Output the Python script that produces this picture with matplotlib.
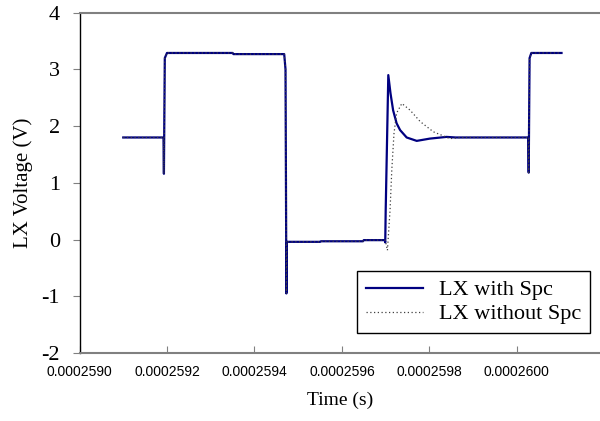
import matplotlib.pyplot as plt
from matplotlib.ticker import FormatStrFormatter

plt.rcParams['axes.unicode_minus'] = False

# time in microseconds, voltage in V
t_with = [259.100, 259.192, 259.193, 259.195, 259.200, 259.350, 259.352, 259.468,
          259.471, 259.473, 259.474, 259.550, 259.552, 259.648, 259.650, 259.698,
          259.699, 259.700, 259.706, 259.711, 259.717, 259.725, 259.733, 259.748,
          259.771, 259.801, 259.839, 259.860, 260.026, 260.027, 260.029, 260.033,
          260.102]
v_with = [1.80, 1.80, 1.16, 3.20, 3.29, 3.29, 3.27, 3.27,
          3.00, -0.95, -0.04, -0.04, -0.03, -0.03, -0.01, -0.01,
          -0.05, 0.50, 2.90, 2.58, 2.28, 2.05, 1.93, 1.80,
          1.74, 1.78, 1.81, 1.80, 1.80, 1.18, 3.20, 3.29,
          3.29]

t_without = [259.100, 259.192, 259.193, 259.195, 259.200, 259.350, 259.352, 259.468,
             259.471, 259.473, 259.474, 259.550, 259.552, 259.648, 259.650, 259.699,
             259.704, 259.710, 259.714, 259.719, 259.725, 259.737, 259.756, 259.779,
             259.809, 259.847, 259.870, 260.026, 260.027, 260.029, 260.033, 260.102]
v_without = [1.80, 1.80, 1.16, 3.20, 3.29, 3.29, 3.27, 3.27,
             3.00, -0.95, -0.04, -0.04, -0.03, -0.03, -0.01, -0.01,
             -0.19, 0.52, 1.23, 1.87, 2.23, 2.40, 2.28, 2.08,
             1.90, 1.78, 1.80, 1.80, 1.18, 3.20, 3.29, 3.29]

fig = plt.figure(figsize=(6, 4.21), dpi=100)
ax = fig.add_axes([79.5 / 600, 1 - 353 / 421, 1 - 79.5 / 600, (353 - 12.7) / 421])

ax.plot([t * 1e-6 for t in t_with], v_with, color='#000080', lw=1.6, label='LX with Spc')
ax.plot([t * 1e-6 for t in t_without], v_without, color='#404040', lw=0.9,
        linestyle=(0, (1, 2)), label='LX without Spc')

ax.set_xlim(259.0e-6, 260.19e-6)
ax.set_ylim(-2, 4)
ax.set_xticks([259.0e-6, 259.2e-6, 259.4e-6, 259.6e-6, 259.8e-6, 260.0e-6])
ax.xaxis.set_major_formatter(FormatStrFormatter('%.7f'))
ax.set_yticks([-2, -1, 0, 1, 2, 3, 4])

serif = 'Liberation Serif'
for lab in ax.get_xticklabels():
    lab.set_fontfamily('Liberation Sans')
    lab.set_fontsize(10)
for lab in ax.get_yticklabels():
    lab.set_fontfamily(serif)
    lab.set_fontsize(16)

ax.tick_params(axis='x', direction='in', length=5, color='#808080', pad=9)
ax.tick_params(axis='y', direction='out', length=5, color='#808080', pad=9)

ax.spines['left'].set_color('black')
ax.spines['left'].set_linewidth(1.0)
ax.spines['bottom'].set_color('#808080')
ax.spines['bottom'].set_linewidth(1.5)
ax.spines['top'].set_color('#808080')
ax.spines['top'].set_linewidth(1.5)
ax.spines['right'].set_visible(False)

ax.set_xlabel('Time (s)', fontfamily=serif, fontsize=14, labelpad=9)
ax.set_ylabel('LX Voltage (V)', fontfamily=serif, fontsize=15, labelpad=6)

leg = ax.legend(loc='upper left', bbox_to_anchor=(357 / 600, 1 - 271 / 421),
                bbox_transform=fig.transFigure, prop={'family': serif, 'size': 16},
                fancybox=False, framealpha=1, edgecolor='black', handlelength=2.55,
                handletextpad=0.75, labelspacing=0.15, borderpad=0.4, borderaxespad=0)
leg.get_frame().set_linewidth(1.0)

fig.savefig('out.png', dpi=100)
